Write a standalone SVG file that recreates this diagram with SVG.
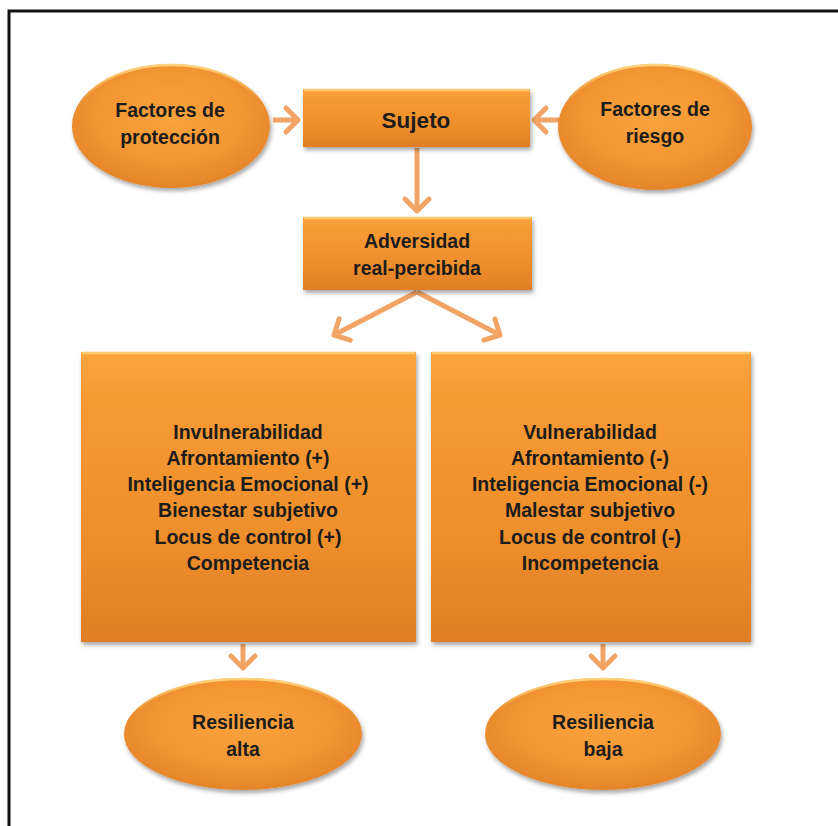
<svg xmlns="http://www.w3.org/2000/svg" width="838" height="826" viewBox="0 0 838 826">
<defs>
<style>
.t{font-family:"Liberation Sans",Arial,sans-serif;font-weight:bold;font-size:19.5px;fill:#1c1c1c;text-anchor:middle}
.big{font-size:22.5px}
.arr{fill:none;stroke:#F2A465;stroke-width:5;stroke-linecap:butt}
.box{fill:url(#gBox);filter:url(#sh)}
.ell{fill:url(#gEll);filter:url(#sh)}
.rim{fill:none;stroke:url(#gRim);stroke-width:2.5}
.hl{stroke:#FFC96E;stroke-width:2.5}
</style>
<linearGradient id="gBox" x1="0" y1="0" x2="0" y2="1">
<stop offset="0" stop-color="#FBA43E"/>
<stop offset="0.15" stop-color="#F79A32"/>
<stop offset="0.65" stop-color="#EE8E2C"/>
<stop offset="1" stop-color="#E07D26"/>
</linearGradient>
<radialGradient id="gEll" cx="0.5" cy="0.42" r="0.6">
<stop offset="0" stop-color="#F9A23D"/>
<stop offset="0.6" stop-color="#F39633"/>
<stop offset="1" stop-color="#E3832A"/>
</radialGradient>
<linearGradient id="gRim" x1="0" y1="0" x2="0" y2="1">
<stop offset="0" stop-color="#FFD27A"/>
<stop offset="0.3" stop-color="#FFD27A" stop-opacity="0"/>
<stop offset="1" stop-color="#FFD27A" stop-opacity="0"/>
</linearGradient>
<filter id="sh" x="-10%" y="-10%" width="125%" height="130%">
<feDropShadow dx="1.5" dy="3" stdDeviation="2.2" flood-color="#000" flood-opacity="0.35"/>
</filter>
<marker id="ah" viewBox="-18 -16 22 32" markerWidth="22" markerHeight="32" refX="0" refY="0" orient="auto" markerUnits="userSpaceOnUse">
<path d="M-12,-12 L0,0 L-12,12" fill="none" stroke="#F2A465" stroke-width="5" stroke-linecap="round" stroke-linejoin="round"/>
</marker>
</defs>
<rect width="838" height="826" fill="#fff"/>
<path d="M9,826 V11 H838" fill="none" stroke="#111" stroke-width="3"/>

<g id="connectors">
<path class="arr" d="M273,120 H298" marker-end="url(#ah)"/>
<path class="arr" d="M559,120 H534" marker-end="url(#ah)"/>
<path class="arr" d="M417,148 V211" marker-end="url(#ah)"/>
<path class="arr" d="M417,292 L334,335" marker-end="url(#ah)"/>
<path class="arr" d="M417,292 L500,335" marker-end="url(#ah)"/>
<path class="arr" d="M243,644 V668" marker-end="url(#ah)"/>
<path class="arr" d="M603,644 V668" marker-end="url(#ah)"/>
</g>

<g id="proteccion">
<ellipse class="ell" cx="171" cy="126" rx="99" ry="62"/>
<ellipse class="rim" cx="171" cy="126" rx="98" ry="61"/>
<text class="t" x="170" y="117">Factores de</text>
<text class="t" x="170" y="144">protección</text>
</g>

<g id="riesgo">
<ellipse class="ell" cx="655" cy="127" rx="97" ry="63"/>
<ellipse class="rim" cx="655" cy="127" rx="96" ry="62"/>
<text class="t" x="655" y="116">Factores de</text>
<text class="t" x="655" y="143">riesgo</text>
</g>

<g id="sujeto">
<rect class="box" x="303" y="89" width="227" height="58"/>
<line class="hl" x1="304" y1="90" x2="529" y2="90"/>
<text class="t big" x="416" y="128">Sujeto</text>
</g>

<g id="adversidad">
<rect class="box" x="303" y="217" width="229" height="73"/>
<line class="hl" x1="304" y1="218" x2="531" y2="218"/>
<text class="t" x="417" y="248">Adversidad</text>
<text class="t" x="417" y="275">real-percibida</text>
</g>

<g id="positivo">
<rect class="box" x="81" y="352" width="335" height="290"/>
<line class="hl" x1="82" y1="353" x2="415" y2="353"/>
<text class="t" x="248" y="439">Invulnerabilidad</text>
<text class="t" x="248" y="465">Afrontamiento (+)</text>
<text class="t" x="248" y="491">Inteligencia Emocional (+)</text>
<text class="t" x="248" y="517">Bienestar subjetivo</text>
<text class="t" x="248" y="544">Locus de control (+)</text>
<text class="t" x="248" y="570">Competencia</text>
</g>

<g id="negativo">
<rect class="box" x="431" y="352" width="320" height="290"/>
<line class="hl" x1="432" y1="353" x2="750" y2="353"/>
<text class="t" x="590" y="439">Vulnerabilidad</text>
<text class="t" x="590" y="465">Afrontamiento (-)</text>
<text class="t" x="590" y="491">Inteligencia Emocional (-)</text>
<text class="t" x="590" y="517">Malestar subjetivo</text>
<text class="t" x="590" y="544">Locus de control (-)</text>
<text class="t" x="590" y="570">Incompetencia</text>
</g>

<g id="alta">
<ellipse class="ell" cx="243" cy="734" rx="119" ry="56"/>
<ellipse class="rim" cx="243" cy="734" rx="118" ry="55"/>
<text class="t" x="243" y="729">Resiliencia</text>
<text class="t" x="243" y="756">alta</text>
</g>

<g id="baja">
<ellipse class="ell" cx="603" cy="734" rx="118" ry="56"/>
<ellipse class="rim" cx="603" cy="734" rx="117" ry="55"/>
<text class="t" x="603" y="729">Resiliencia</text>
<text class="t" x="603" y="756">baja</text>
</g>
</svg>
